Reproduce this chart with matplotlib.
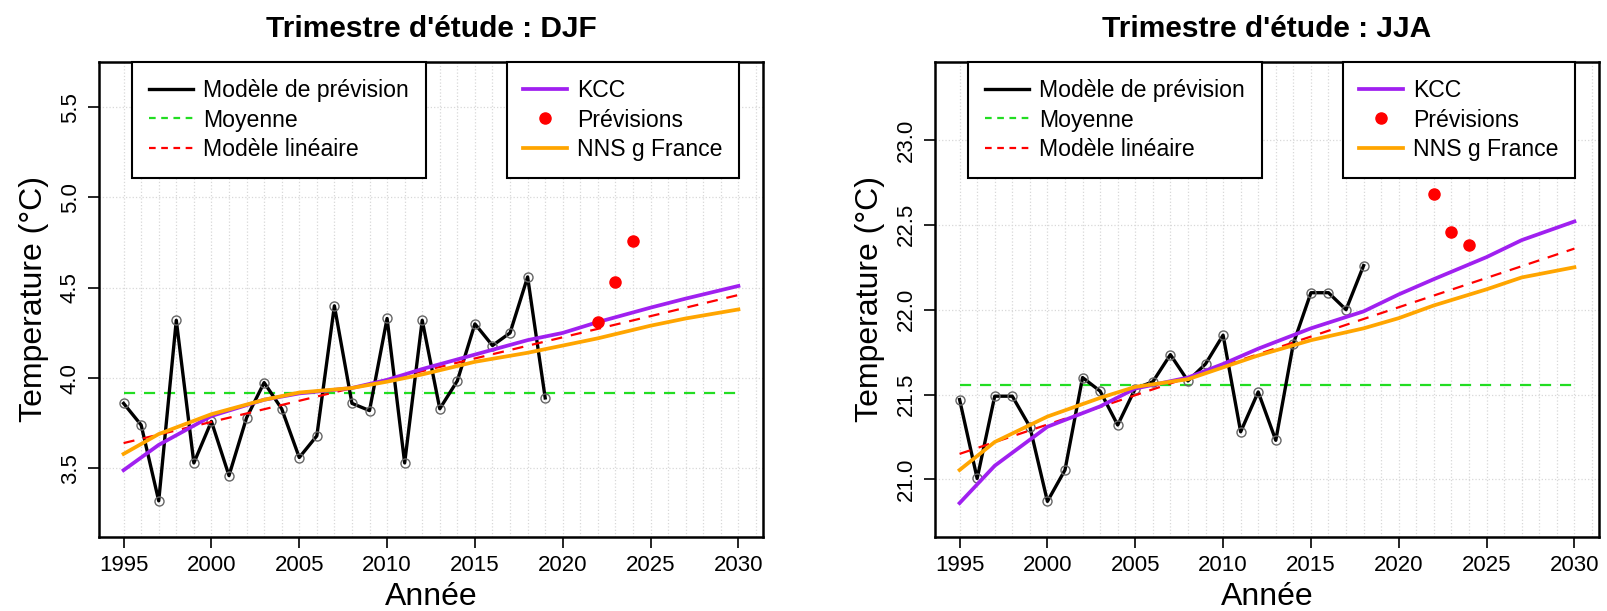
import numpy as np
import matplotlib
matplotlib.use('Agg')
import matplotlib.pyplot as plt
from matplotlib.lines import Line2D

plt.rcParams['font.family'] = ['Liberation Sans', 'DejaVu Sans']

# ---- data ----
years_djf = np.arange(1995, 2020)
obs_djf = [3.86, 3.74, 3.32, 4.32, 3.53, 3.76, 3.46, 3.78, 3.975, 3.83,
           3.56, 3.68, 4.40, 3.86, 3.82, 4.33, 3.53, 4.32, 3.83, 3.985,
           4.30, 4.18, 4.25, 4.56, 3.89]
mean_djf = 3.92
lin_x = [1995, 2030]
lin_djf = [3.64, 4.46]
prev_x = [2022, 2023, 2024]
prev_djf = [4.31, 4.53, 4.76]
curve_x = [1995, 1997, 2000, 2003, 2005, 2008, 2010, 2012, 2015, 2018, 2020, 2022, 2025, 2027, 2030]
kcc_djf = [3.49, 3.63, 3.79, 3.88, 3.915, 3.945, 3.99, 4.05, 4.13, 4.21, 4.25, 4.31, 4.39, 4.44, 4.51]
nns_djf = [3.58, 3.69, 3.80, 3.88, 3.92, 3.945, 3.98, 4.02, 4.09, 4.14, 4.18, 4.22, 4.29, 4.33, 4.38]

years_jja = np.arange(1995, 2019)
obs_jja = [21.47, 21.005, 21.49, 21.49, 21.31, 20.87, 21.055, 21.60, 21.52, 21.32,
           21.535, 21.575, 21.735, 21.58, 21.68, 21.85, 21.28, 21.515, 21.23, 21.80,
           22.10, 22.10, 22.00, 22.26]
mean_jja = 21.555
lin_jja = [21.15, 22.36]
prev_jja = [22.68, 22.46, 22.38]
kcc_jja = [20.86, 21.08, 21.31, 21.43, 21.535, 21.60, 21.68, 21.77, 21.89, 21.99, 22.09, 22.18, 22.31, 22.41, 22.52]
nns_jja = [21.055, 21.22, 21.37, 21.48, 21.545, 21.59, 21.66, 21.73, 21.82, 21.89, 21.95, 22.025, 22.12, 22.19, 22.25]

yticks_djf = [3.5, 4.0, 4.5, 5.0, 5.5]
yticks_jja = [21.0, 21.5, 22.0, 22.5, 23.0]
xticks = [1995, 2000, 2005, 2010, 2015, 2020, 2025, 2030]

PURPLE = '#A020F0'
ORANGE = '#FFA500'
GREEN = '#22DD22'
RED = '#FF0000'

fig = plt.figure(figsize=(16.07, 6.11), dpi=100)
ax1 = fig.add_axes([99/1607, 74/611, 664/1607, 475/611])
ax2 = fig.add_axes([935/1607, 74/611, 664/1607, 475/611])


def panel(ax, yrs, obs, mean, lin, prev, kcc, nns, ylim, yticks, title):
    ax.set_xlim(1993.6, 2031.4)
    ax.set_ylim(*ylim)
    # grid
    for yr in range(1995, 2032):
        ax.axvline(yr, color='#D8D8D8', lw=0.9, ls=':', zorder=0)
    for yv in yticks:
        ax.axhline(yv, color='#D8D8D8', lw=0.9, ls=':', zorder=0)

    ax.plot(yrs, obs, color='black', lw=2.4, zorder=3,
            marker='o', ms=6.5, mfc='none', mec='#666666', mew=1.0)
    ax.plot([yrs[0], 2030], [mean, mean], color=GREEN, lw=1.6, ls=(0, (5, 4)), zorder=2)
    ax.plot(lin_x, lin, color=RED, lw=1.6, ls=(0, (5, 4)), zorder=4)
    ax.plot(curve_x, kcc, color=PURPLE, lw=2.7, zorder=4)
    ax.plot(curve_x, nns, color=ORANGE, lw=2.7, zorder=4)
    ax.plot(prev_x, prev, ls='none', marker='o', ms=8, color=RED, zorder=5)

    ax.set_xticks(xticks)
    ax.set_yticks(yticks)
    ax.set_yticklabels(['%.1f' % v for v in yticks], rotation=90, va='center')
    ax.tick_params(labelsize=16, length=8, width=1.2, pad=5)
    for s in ax.spines.values():
        s.set_linewidth(1.8)
    ax.set_xlabel('Année', fontsize=23, labelpad=4)
    ax.set_ylabel('Temperature (°C)', fontsize=23, labelpad=8)
    ax.set_title(title, fontsize=21.5, fontweight='bold', pad=18)

    opts = dict(loc='upper left', bbox_transform=ax.transData, borderaxespad=0,
                fontsize=16.6, handlelength=1.9, handletextpad=0.45,
                labelspacing=0.3, borderpad=0.72, fancybox=False,
                framealpha=1, edgecolor='black')
    h1 = [Line2D([], [], color='black', lw=2.4),
          Line2D([], [], color=GREEN, lw=1.6, ls=(0, (3, 2.5))),
          Line2D([], [], color=RED, lw=1.6, ls=(0, (3, 2.5)))]
    leg1 = ax.legend(h1, ['Modèle de prévision', 'Moyenne', 'Modèle linéaire'],
                     bbox_to_anchor=(1995.5, ylim[1]), **opts)
    leg1.get_frame().set_linewidth(1.5)
    ax.add_artist(leg1)
    h2 = [Line2D([], [], color=PURPLE, lw=2.7),
          Line2D([], [], ls='none', marker='o', ms=8, color=RED),
          Line2D([], [], color=ORANGE, lw=2.7)]
    leg2 = ax.legend(h2, ['KCC', 'Prévisions', 'NNS g France'],
                     bbox_to_anchor=(2016.8, ylim[1]), **opts)
    leg2.get_frame().set_linewidth(1.5)


panel(ax1, years_djf, obs_djf, mean_djf, lin_djf, prev_djf, kcc_djf, nns_djf,
      (3.12, 5.75), yticks_djf, "Trimestre d'étude : DJF")
panel(ax2, years_jja, obs_jja, mean_jja, lin_jja, prev_jja, kcc_jja, nns_jja,
      (20.66, 23.46), yticks_jja, "Trimestre d'étude : JJA")

fig.savefig('out.png', dpi=100)
